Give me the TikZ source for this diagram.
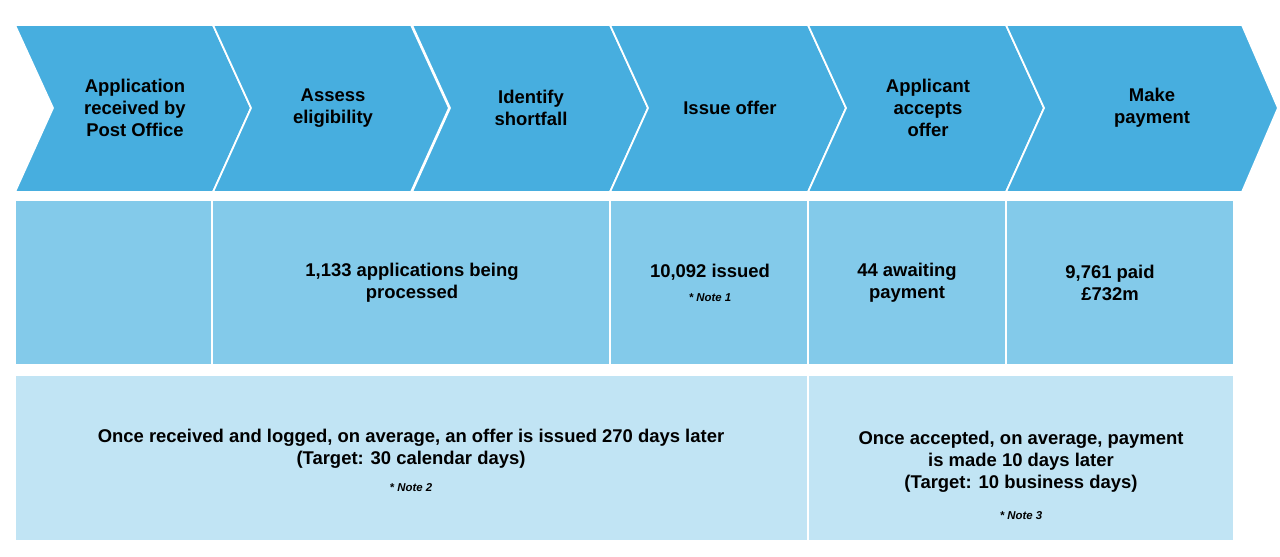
\documentclass[tikz,border=0pt]{standalone}
\usepackage{fontspec}
\setmainfont{Liberation Sans}
\definecolor{chev}{HTML}{47AEDF}
\definecolor{midbox}{HTML}{83CAEA}
\definecolor{lowbox}{HTML}{C1E4F4}
\begin{document}
\begin{tikzpicture}[x=0.02cm,y=-0.02cm]
		\tikzset{chevron/.style = {fill=chev, draw=white, line width=1pt},
			box/.style = {draw=white, line width=1.2pt},
			lbl/.style = {align=center, font=\fontsize{10.5}{12.6}\selectfont\bfseries, text=black},
			note/.style = {font=\fontsize{6.5}{8}\selectfont\bfseries\itshape}}
		\useasboundingbox (0,0) rectangle (1280,557);
		% chevrons
		\foreach \x in {15,213,412,610,808}
		{
			\filldraw [chevron] (\x,25) -- (\x+198,25) -- (\x+236,108) -- (\x+198,192) -- (\x,192) -- (\x+38,108) -- cycle;
		}
		\filldraw [chevron] (1006,25) -- (1242,25) -- (1278,108) -- (1242,192) -- (1006,192) -- (1044,108) -- cycle;
		\node [lbl] (s1) at (135,108) {Application\\received by\\Post Office};
		\node [lbl] (s2) at (333,108) {Assess\\eligibility};
		\node [lbl] (s3) at (531,108) {Identify\\shortfall};
		\node [lbl] (s4) at (730,108) {Issue offer};
		\node [lbl] (s5) at (928,108) {Applicant\\accepts\\offer};
		\node [lbl] (s6) at (1152,108) {Make\\payment};
		% status row
		\filldraw [box, fill=midbox] (15,200) rectangle (212,365);
		\filldraw [box, fill=midbox] (212,200) rectangle (610,365);
		\filldraw [box, fill=midbox] (610,200) rectangle (808,365);
		\filldraw [box, fill=midbox] (808,200) rectangle (1006,365);
		\filldraw [box, fill=midbox] (1006,200) rectangle (1234,365);
		\node [lbl] (n1) at (412,283) {1,133 applications being\\processed};
		\node [lbl] (n2) at (710,272) {10,092 issued};
		\node [note] (m1) at (710,298) {* Note 1};
		\node [lbl] (n3) at (907,283) {44 awaiting\\payment};
		\node [lbl] (n4) at (1110,283) {9,761 paid\\£732m};
		% timing row
		\filldraw [box, fill=lowbox] (15,375) rectangle (808,541);
		\filldraw [box, fill=lowbox] (808,375) rectangle (1234,541);
		\node [lbl] (t1) at (411,449) {Once received and logged, on average, an offer is issued 270 days later\\(Target: 30 calendar days)};
		\node [note] (m2) at (411,488) {* Note 2};
		\node [lbl] (t2) at (1021,462) {Once accepted, on average, payment\\is made 10 days later\\(Target: 10 business days)};
		\node [note] (m3) at (1021,516) {* Note 3};
\end{tikzpicture}
\end{document}
